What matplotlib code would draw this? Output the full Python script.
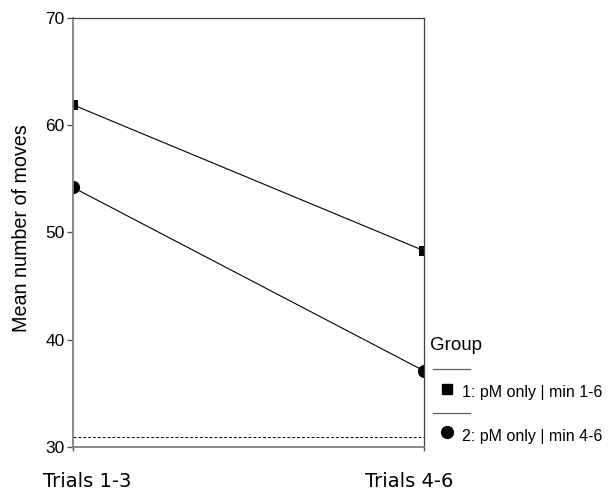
import matplotlib
matplotlib.use("Agg")
import matplotlib.pyplot as plt
import matplotlib.transforms as mtransforms

categories = ["Trials 1-3", "Trials 4-6"]
group_labels = ["1: pM only | min 1-6", "2: pM only | min 4-6"]
group1 = [61.9, 48.3]
group2 = [54.2, 37.1]
reference_line = 30.9
yticks = [30, 40, 50, 60, 70]

W, H = 611, 491
fig = plt.figure(figsize=(W / 100, H / 100), dpi=100)
ax = fig.add_axes([73 / W, 1 - 447 / H, (424 - 73) / W, (447 - 18) / H])

x = list(range(len(categories)))
ax.plot(x, group1, color="black", lw=0.8)
ax.plot(x, group2, color="black", lw=0.8)
ax.scatter(x, group1, marker="s", s=60, color="black", linewidths=0, zorder=2.5)
ax.scatter(x, group2, marker="o", s=90, color="black", linewidths=0, zorder=2.5)
ax.axhline(reference_line, color="black", lw=0.7, ls=(0, (3, 2)))

ax.set_xlim(0, 1)
ax.set_ylim(30, 70)
ax.set_yticks(yticks)
ax.set_yticklabels([str(t) for t in yticks], fontfamily="Liberation Sans", fontsize=12.5)
ax.set_xticks(x)
ax.set_xticklabels(categories, fontfamily="DejaVu Sans", fontsize=14)
ax.tick_params(axis="y", length=4, width=1, color="#555555", pad=2)
ax.tick_params(axis="x", length=3, width=1, color="#555555", pad=15)
offsets = [14, -15]
for lbl, dx in zip(ax.get_xticklabels(), offsets):
    lbl.set_transform(lbl.get_transform() + mtransforms.ScaledTranslation(dx / 100, 0, fig.dpi_scale_trans))

for side in ["left", "bottom"]:
    ax.spines[side].set_color("#808080")
    ax.spines[side].set_linewidth(1.3)
for side in ["top", "right"]:
    ax.spines[side].set_color("#404040")
    ax.spines[side].set_linewidth(0.9)

ax.set_ylabel("Mean number of moves", fontfamily="Liberation Sans", fontsize=14.2)
ax.yaxis.set_label_coords(22 / W, 1 - 228 / H, transform=fig.transFigure)
ax.yaxis.label.set_va("center")

# legend
fig.text(430 / W, 1 - 345 / H, "Group", fontfamily="Liberation Sans", fontsize=13.5, va="center", ha="left")
for yy in [369, 413]:
    fig.add_artist(plt.Line2D([433 / W, 470 / W], [1 - yy / H, 1 - yy / H], color="#606060", lw=0.9))
fig.add_artist(plt.Line2D([447 / W], [1 - 389 / H], marker="s", ms=7, color="black", ls="none"))
fig.add_artist(plt.Line2D([447 / W], [1 - 432 / H], marker="o", ms=8.5, color="black", ls="none"))
fig.text(462 / W, 1 - 392 / H, group_labels[0], fontfamily="Liberation Sans", fontsize=11.5, va="center", ha="left")
fig.text(462 / W, 1 - 437 / H, group_labels[1], fontfamily="Liberation Sans", fontsize=11.5, va="center", ha="left")

fig.savefig("out.png", dpi=100)
